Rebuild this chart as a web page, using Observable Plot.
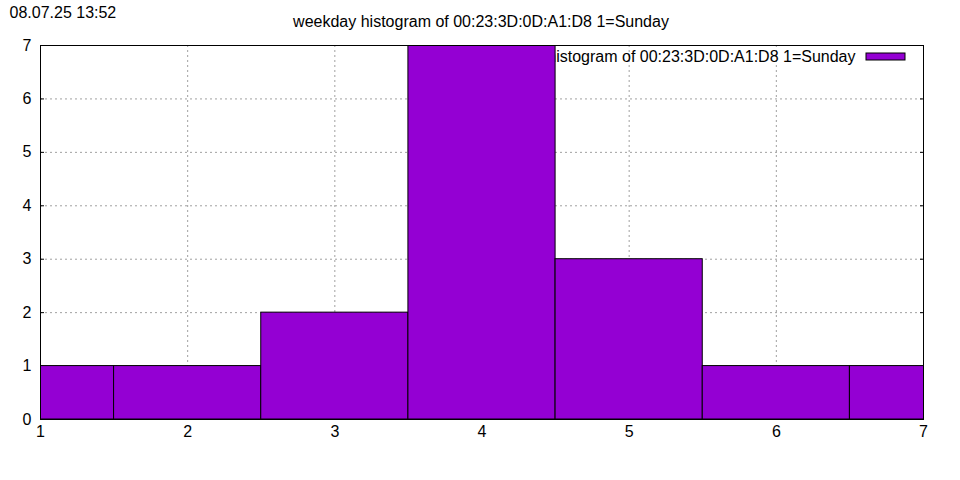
<!DOCTYPE html>
<html>
<head>
<meta charset="utf-8">
<script src="https://cdn.jsdelivr.net/npm/d3@7"></script>
<script src="https://cdn.jsdelivr.net/npm/@observablehq/plot@0.6"></script>
<style>
  html, body { margin: 0; padding: 0; background: #fff; }
</style>
</head>
<body>
<div id="chart"></div>
<script>
const days = [1, 2, 3, 4, 5, 6, 7];
const counts = [1, 1, 2, 7, 3, 1, 1];
const xTicks = [1, 2, 3, 4, 5, 6, 7];
const yTicks = [0, 1, 2, 3, 4, 5, 6, 7];
const gridXTicks = [2, 3, 4, 5, 6];
const gridYTicks = [1, 2, 3, 4, 5, 6];
const titleText = "weekday histogram of 00:23:3D:0D:A1:D8 1=Sunday";
const legendText = "weekday histogram of 00:23:3D:0D:A1:D8 1=Sunday";
const timestamp = "08.07.25 13:52";
const barColor = "#9400d3";

const bars = days.map((d, i) => ({x1: d - 0.5, x2: d + 0.5, y: counts[i]}));

const chart = Plot.plot({
  width: 960,
  height: 480,
  marginLeft: 40,
  marginRight: 37,
  marginTop: 45,
  marginBottom: 61,
  style: {fontFamily: "'Liberation Sans', Arial, sans-serif", fontSize: "16px", color: "black", background: "white"},
  x: {domain: [1, 7]},
  y: {domain: [0, 7]},
  marks: [
    Plot.gridX(gridXTicks, {stroke: "#a0a0a0", strokeOpacity: 1, strokeDasharray: "2,3"}),
    Plot.gridY(gridYTicks, {stroke: "#a0a0a0", strokeOpacity: 1, strokeDasharray: "2,3"}),
    Plot.axisY(yTicks, {anchor: "left", tickSize: -4, tickFormat: () => "", label: null}),
    Plot.axisY(yTicks, {anchor: "right", tickSize: -4, tickFormat: () => "", label: null}),
    Plot.axisY(yTicks, {anchor: "left", tickSize: 0, tickPadding: 9, tickFormat: d3.format("d"), label: null, fontSize: 16}),
    Plot.axisX(xTicks, {anchor: "bottom", tickSize: 0, tickPadding: 6, tickFormat: d3.format("d"), label: null, fontSize: 16}),
    Plot.text([legendText], {text: d => d, frameAnchor: "top-right", dx: -68, dy: 11, textAnchor: "end", lineAnchor: "middle", fontSize: 16}),
    Plot.rectY(bars, {x1: "x1", x2: "x2", y: "y", fill: barColor, stroke: "black", strokeWidth: 1, clip: true}),
    Plot.frame({stroke: "black", strokeWidth: 1}),
    Plot.text([titleText], {text: d => d, frameAnchor: "top", dx: -1, dy: -24, lineAnchor: "middle", fontSize: 16}),
    Plot.text([timestamp], {text: d => d, frameAnchor: "top-left", textAnchor: "start", dx: -31, dy: -33, lineAnchor: "middle", fontSize: 16})
  ]
});

// legend swatch
d3.select(chart).append("rect")
  .attr("x", 866).attr("y", 53).attr("width", 39).attr("height", 7)
  .attr("fill", barColor).attr("stroke", "black").attr("stroke-width", 1);

document.getElementById("chart").appendChild(chart);
</script>
</body>
</html>
